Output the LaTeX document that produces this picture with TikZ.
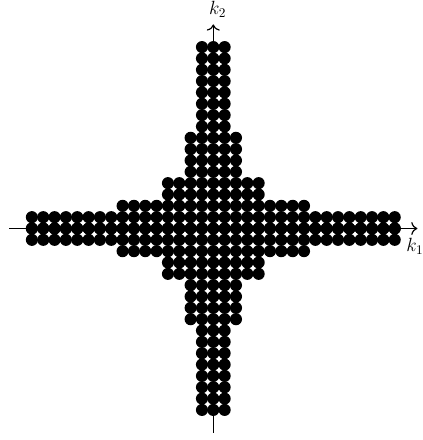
\documentclass[tikz,border=0pt]{standalone}
\usetikzlibrary{arrows.meta}
\begin{document}
\begin{tikzpicture}[
  dot/.style={fill=black},
  axis/.style={-{To[scale=1.3]}, line width=0.9pt},
  axislabel/.style={inner sep=0pt, anchor=base west, font=\Large},
]
  \useasboundingbox (-5.644,-5.596) rectangle (5.522,6.046);

  % Axes
  \coordinate (xl) at (-5.4,0);
  \coordinate (xr) at (5.4,0);
  \coordinate (yb) at (0,-5.4);
  \coordinate (yt) at (0,5.4);
  \draw[axis] (xl) -- (xr);
  \draw[axis] (yb) -- (yt);

  % Lattice points: half-width \m for rows \lo..\hi
  \foreach \m/\lo/\hi in {16/0/1, 8/2/2, 4/3/4, 2/5/8, 1/9/16} {
    \foreach \b in {\lo,...,\hi} {
      \foreach \a in {-\m,...,\m} {
        \fill[dot] (\a*0.3, \b*0.3) circle (0.16);
        \fill[dot] (\a*0.3, -\b*0.3) circle (0.16);
      }
    }
  }

  % Axis labels
  \node[axislabel] (k1) at (5.1,-0.614) {$k_1$};
  \node[axislabel] (k2) at (-0.12,5.65) {$k_2$};
\end{tikzpicture}
\end{document}
